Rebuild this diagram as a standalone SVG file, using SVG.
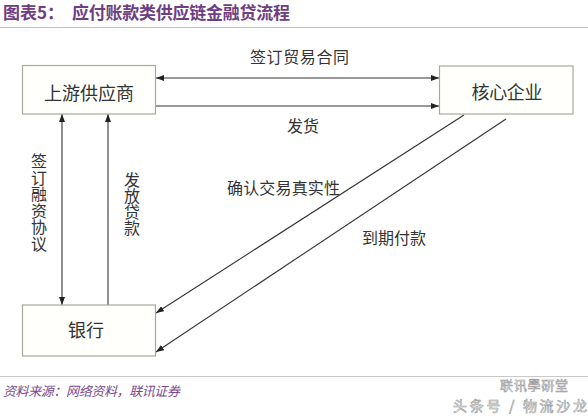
<svg xmlns="http://www.w3.org/2000/svg" width="588" height="416" viewBox="0 0 588 416">
<defs>
<marker id="ah" viewBox="0 0 8 6" refX="8" refY="3" markerWidth="8" markerHeight="6" markerUnits="userSpaceOnUse" orient="auto-start-reverse">
<path d="M0,0 L8,3 L0,6 z" fill="#222"/>
</marker>
<style>
.box{fill:#fffffb;stroke:#a8a8a0;stroke-width:1.2}
.lbl{font-family:"Noto Sans CJK SC","Noto Sans",sans-serif;fill:#333;font-size:16px}
.big{font-size:18px}
.vert{writing-mode:vertical-rl;text-orientation:upright}
.con{stroke:#333;stroke-width:1.1;fill:none}
.title{font-family:"Noto Sans CJK SC","Noto Sans",sans-serif;font-weight:bold;fill:#6e3d82;font-size:17px}
.src{font-family:"Noto Sans CJK SC","Noto Sans",sans-serif;font-style:italic;fill:#7a4a8e;font-size:13px}
.wm{font-family:"Noto Sans CJK SC","Noto Sans",sans-serif;fill:#fff;stroke:#9a9a9a;stroke-width:0.6}
</style>
</defs>
<rect width="588" height="416" fill="#fff"/>
<text class="title" x="3" y="19">图表5：</text>
<text class="title" x="72" y="19" textLength="218">应付账款类供应链金融贷流程</text>
<line x1="0" y1="27.5" x2="588" y2="27.5" stroke="#c8bfcc" stroke-width="1"/>

<g id="connectors">
<line class="con" x1="156" y1="78" x2="439" y2="78" marker-start="url(#ah)" marker-end="url(#ah)"/>
<line class="con" x1="156" y1="106" x2="439" y2="106" marker-end="url(#ah)"/>
<line class="con" x1="62" y1="114" x2="62" y2="305" marker-start="url(#ah)" marker-end="url(#ah)"/>
<line class="con" x1="108" y1="305" x2="108" y2="114" marker-end="url(#ah)"/>
<line class="con" x1="464" y1="115" x2="156" y2="313" marker-end="url(#ah)"/>
<line class="con" x1="506" y1="119" x2="156" y2="352" marker-end="url(#ah)"/>
<text class="lbl" x="250" y="63" textLength="99">签订贸易合同</text>
<text class="lbl" x="287" y="132">发货</text>
<text class="lbl" x="227" y="194" textLength="113">确认交易真实性</text>
<text class="lbl" x="362" y="244">到期付款</text>
<text class="lbl vert" x="39" y="153" letter-spacing="0.5">签订融资协议</text>
<text class="lbl vert" x="132" y="172">发放贷款</text>
</g>

<g id="upstream">
<rect class="box" x="22.5" y="65.5" width="133" height="48.5"/>
<text class="lbl big" x="89" y="100" text-anchor="middle" textLength="90">上游供应商</text>
</g>
<g id="core">
<rect class="box" x="439.5" y="66" width="133.5" height="48"/>
<text class="lbl big" x="507" y="99" text-anchor="middle" textLength="71">核心企业</text>
</g>
<g id="bank">
<rect class="box" x="22.5" y="305" width="133" height="51"/>
<text class="lbl big" x="86" y="337" text-anchor="middle">银行</text>
</g>

<line x1="0" y1="376.5" x2="588" y2="376.5" stroke="#c8c8c8" stroke-width="1"/>
<text class="src" x="3" y="396" textLength="177">资料来源：网络资料，联讯证券</text>
<text class="wm" x="500" y="390" font-size="13" textLength="68">联讯學研堂</text>
<text class="wm" x="453" y="411" font-size="14" textLength="134">头条号 / 物流沙龙</text>
</svg>
